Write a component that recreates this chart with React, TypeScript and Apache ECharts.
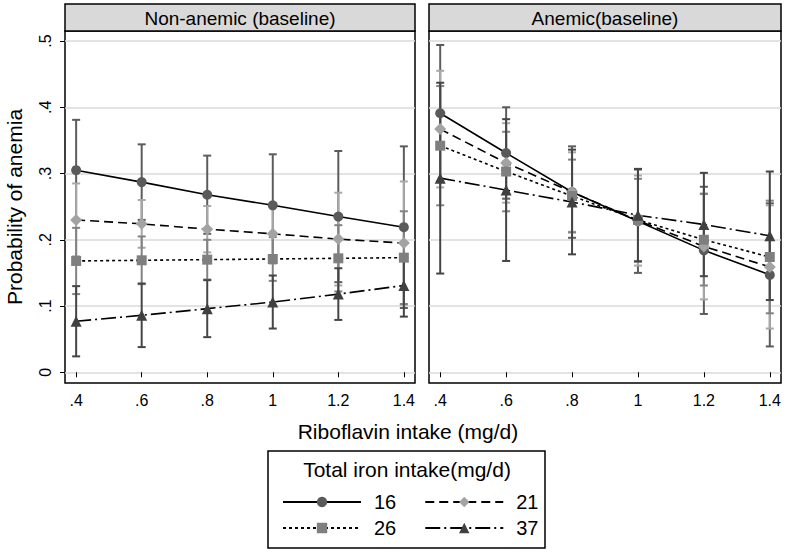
import React, { useEffect, useRef } from "react";
import * as echarts from "echarts";

// ---------- data ----------
const xValues = [0.4, 0.6, 0.8, 1.0, 1.2, 1.4];
const xTickLabels = [".4", ".6", ".8", "1", "1.2", "1.4"];
const yTicks = [0, 0.1, 0.2, 0.3, 0.4, 0.5];
const yTickLabels = ["0", ".1", ".2", ".3", ".4", ".5"];
const panelTitles = ["Non-anemic (baseline)", "Anemic(baseline)"];
const seriesNames = ["16", "21", "26", "37"];
const legendTitle = "Total iron intake(mg/d)";
const xAxisTitle = "Riboflavin intake (mg/d)";
const yAxisTitle = "Probability of anemia";

// Non-anemic (baseline) panel: predicted probability and CI half-width
const nonAnemic16 = [0.305, 0.287, 0.268, 0.252, 0.235, 0.219];
const nonAnemic21 = [0.23, 0.224, 0.216, 0.209, 0.201, 0.195];
const nonAnemic26 = [0.168, 0.169, 0.17, 0.171, 0.172, 0.173];
const nonAnemic37 = [0.077, 0.086, 0.096, 0.106, 0.118, 0.131];
const nonAnemic16Ci = [0.076, 0.057, 0.059, 0.077, 0.099, 0.122];
const nonAnemic21Ci = [0.055, 0.036, 0.035, 0.045, 0.07, 0.093];
const nonAnemic26Ci = [0.05, 0.036, 0.03, 0.033, 0.05, 0.07];
const nonAnemic37Ci = [0.053, 0.048, 0.043, 0.04, 0.039, 0.047];

// Anemic (baseline) panel
const anemic16 = [0.391, 0.331, 0.272, 0.228, 0.184, 0.147];
const anemic21 = [0.367, 0.316, 0.272, 0.229, 0.19, 0.159];
const anemic26 = [0.342, 0.303, 0.266, 0.23, 0.2, 0.174];
const anemic37 = [0.293, 0.275, 0.257, 0.237, 0.223, 0.206];
const anemic16Ci = [0.103, 0.069, 0.069, 0.078, 0.096, 0.108];
const anemic21Ci = [0.088, 0.06, 0.06, 0.068, 0.08, 0.093];
const anemic26Ci = [0.09, 0.06, 0.055, 0.062, 0.069, 0.085];
const anemic37Ci = [0.144, 0.107, 0.079, 0.07, 0.078, 0.097];

// ---------- styles ----------
const FONT = "'Liberation Sans', Arial, sans-serif";
const markerColors = ["#5a5a5a", "#a3a3a3", "#7f7f7f", "#404040"];
const ciColors = ["#5c5c5c", "#a8a8a8", "#828282", "#454545"];
const symbols = ["circle", "diamond", "rect", "triangle"];
const symbolSizes = [10, 12, 10, 11];
const dashes: any[] = ["solid", [9, 5], [3, 3], [15, 4, 2, 4]];

const grids = [
  { left: 65, right: 371, top: 31, bottom: 171 },
  { left: 429, right: 5, top: 31, bottom: 171 },
];
const headerTop = 4;

function App() {
  const ref = useRef<HTMLDivElement>(null);
  useEffect(() => {
    if (!ref.current) return;
    const chart = echarts.init(ref.current, undefined, { renderer: "svg" });

    const panels = [
      { vals: [nonAnemic16, nonAnemic21, nonAnemic26, nonAnemic37], ci: [nonAnemic16Ci, nonAnemic21Ci, nonAnemic26Ci, nonAnemic37Ci] },
      { vals: [anemic16, anemic21, anemic26, anemic37], ci: [anemic16Ci, anemic21Ci, anemic26Ci, anemic37Ci] },
    ];

    const labelFor = (v: number, ticks: number[], labels: string[]) => {
      const i = ticks.findIndex((t) => Math.abs(t - v) < 1e-6);
      return i >= 0 ? labels[i] : "";
    };

    const series: any[] = [];
    panels.forEach((p, pi) => {
      p.vals.forEach((vals, si) => {
        const color = ciColors[si];
        series.push({
          type: "custom",
          name: "ci-" + pi + "-" + si,
          xAxisIndex: pi,
          yAxisIndex: pi,
          silent: true,
          z: 2 + si * 0.01,
          data: xValues.map((x, j) => [x, vals[j] - p.ci[si][j], vals[j] + p.ci[si][j]]),
          encode: { x: 0, y: [1, 2] },
          renderItem: (params: any, api: any) => {
            const x = api.value(0);
            const lo = api.coord([x, api.value(1)]);
            const hi = api.coord([x, api.value(2)]);
            const w = 4;
            const st = { stroke: color, lineWidth: 2 };
            return {
              type: "group",
              children: [
                { type: "line", shape: { x1: lo[0], y1: lo[1], x2: hi[0], y2: hi[1] }, style: st },
                { type: "line", shape: { x1: lo[0] - w, y1: lo[1], x2: lo[0] + w, y2: lo[1] }, style: st },
                { type: "line", shape: { x1: hi[0] - w, y1: hi[1], x2: hi[0] + w, y2: hi[1] }, style: st },
              ],
            };
          },
        });
      });
    });
    panels.forEach((p, pi) => {
      p.vals.forEach((vals, si) => {
        series.push({
          type: "line",
          name: seriesNames[si],
          xAxisIndex: pi,
          yAxisIndex: pi,
          silent: true,
          z: 5,
          data: xValues.map((x, j) => [x, vals[j]]),
          symbol: symbols[si],
          symbolSize: symbolSizes[si],
          showSymbol: true,
          itemStyle: { color: markerColors[si] },
          lineStyle: { color: "#000", width: 1.6, type: dashes[si] },
        });
      });
    });

    const xAxes = grids.map((g, i) => ({
      type: "value",
      gridIndex: i,
      min: 0.366,
      max: 1.434,
      axisLine: { show: false },
      axisTick: { show: true, length: 5, customValues: xValues, lineStyle: { color: "#000", width: 1 } },
      axisLabel: {
        customValues: xValues,
        margin: 9,
        fontSize: 16,
        fontFamily: FONT,
        color: "#000",
        formatter: (v: number) => labelFor(v, xValues, xTickLabels),
      },
      splitLine: { show: false },
    }));
    const yAxes = grids.map((g, i) => ({
      type: "value",
      gridIndex: i,
      min: -0.0162,
      max: 0.5151,
      axisLine: { show: false },
      axisTick: { show: i === 0, length: 5, customValues: yTicks, lineStyle: { color: "#000", width: 1 } },
      axisLabel: {
        show: i === 0,
        customValues: yTicks,
        rotate: 90,
        margin: 12,
        fontSize: 16,
        fontFamily: FONT,
        color: "#000",
        formatter: (v: number) => labelFor(v, yTicks, yTickLabels),
      },
      splitLine: { show: true, lineStyle: { color: "#dadada", width: 1.5 } },
      name: i === 0 ? yAxisTitle : "",
      nameLocation: "middle",
      nameGap: 40,
      nameTextStyle: { fontSize: 21, fontFamily: FONT, color: "#000" },
    }));

    const graphics: any[] = [];
    grids.forEach((g, i) => {
      const x0 = g.left;
      const x1 = 786 - g.right;
      graphics.push({
        type: "rect",
        shape: { x: x0, y: headerTop, width: x1 - x0, height: g.top - headerTop },
        style: { fill: "#d9d9d9", stroke: "#000", lineWidth: 1.5 },
        z: 10,
      });
      graphics.push({
        type: "text",
        x: (x0 + x1) / 2,
        y: (headerTop + g.top) / 2 + 1,
        style: { text: panelTitles[i], fill: "#000", font: `19px ${FONT}`, align: "center", verticalAlign: "middle" },
        z: 11,
      });
    });
    graphics.push({
      type: "text",
      x: 408,
      y: 431,
      style: { text: xAxisTitle, fill: "#000", font: `21px ${FONT}`, align: "center", verticalAlign: "middle" },
    });
    graphics.push({
      type: "rect",
      shape: { x: 268, y: 451, width: 277, height: 97 },
      style: { fill: "#fff", stroke: "#000", lineWidth: 1.5 },
      z: 0,
    });
    graphics.push({
      type: "text",
      x: 407,
      y: 469,
      style: { text: legendTitle, fill: "#000", font: `21px ${FONT}`, align: "center", verticalAlign: "middle" },
      z: 1,
    });

    const legendBase = {
      orient: "horizontal",
      left: 277,
      itemWidth: 78,
      itemHeight: 13,
      itemGap: 28,
      selectedMode: false,
      textStyle: { fontSize: 20, fontFamily: FONT, color: "#000", padding: [0, 0, 0, 8] },
      z: 20,
    };

    chart.setOption({
      animation: false,
      backgroundColor: "#fff",
      grid: grids.map((g) => ({ ...g, show: true, borderColor: "#000", borderWidth: 1.5, backgroundColor: "#fff", containLabel: false })),
      xAxis: xAxes,
      yAxis: yAxes,
      legend: [
        { ...legendBase, top: 487, data: [seriesNames[0], seriesNames[1]] },
        { ...legendBase, top: 513, data: [seriesNames[2], seriesNames[3]] },
      ],
      graphic: graphics,
      series,
    });
    return () => chart.dispose();
  }, []);
  return <div ref={ref} style={{ position: "fixed", left: 0, top: 0, width: 786, height: 554, background: "#fff" }} />;
}

export default App;
